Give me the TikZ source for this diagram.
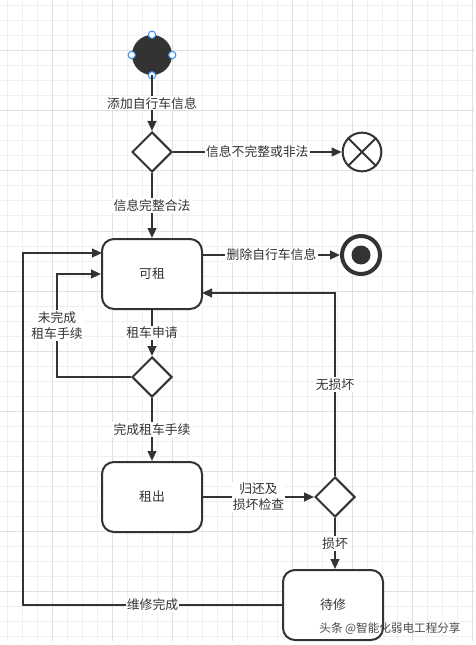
\documentclass[tikz,border=0pt]{standalone}
\usepackage{fontspec}
\setmainfont{Noto Sans CJK SC}
\usetikzlibrary{arrows.meta,shapes.geometric}
\definecolor{ink}{HTML}{333333}
\definecolor{gridminor}{HTML}{EFEFEF}
\definecolor{gridmajor}{HTML}{E0E0E0}
\definecolor{handle}{HTML}{2F8CF0}
\definecolor{wmark}{HTML}{4A4A4A}
\begin{document}
\begin{tikzpicture}[x=0.75pt,y=-0.75pt,
  every node/.style={text=ink},
  txt/.style={font=\fontsize{9.6}{12}\selectfont},
  state/.style={draw=ink, line width=1.5pt, rounded corners=9pt, minimum width=75pt, minimum height=52.5pt, inner sep=0pt, fill=white, txt},
  choice/.style={diamond, draw=ink, line width=1.5pt, minimum width=30pt, minimum height=30pt, inner sep=0pt, aspect=1, fill=white},
  elabel/.style={fill=white, inner sep=1pt, align=center, txt},
  conn/.style={draw=ink, line width=1.5pt, -{Triangle[length=7.5pt,width=6.5pt]}},
  handlept/.style={circle, draw=handle, fill=white, line width=0.75pt, minimum size=5.5pt, inner sep=0pt}]
\useasboundingbox (0,0) rectangle (475,645);
\fill[white] (0,0) rectangle (475,645);
% grid
\foreach \k in {0,...,31} { \draw[gridminor, line width=0.75pt] (7.3+15*\k,0) -- (7.3+15*\k,641); }
\foreach \k in {0,...,42} { \draw[gridminor, line width=0.75pt] (0,6+15*\k) -- (475,6+15*\k); }
\foreach \k in {0,...,7} { \draw[gridmajor, line width=0.75pt] (52.3+60*\k,0) -- (52.3+60*\k,641); }
\foreach \k in {0,...,9} { \draw[gridmajor, line width=0.75pt] (0,51+60*\k) -- (475,51+60*\k); }

% nodes
\node[circle, fill=ink, minimum size=30pt, inner sep=0pt] (start) at (152,55) {};
\node[choice] (d1) at (152,152) {};
\node[circle, draw=ink, line width=1.5pt, minimum size=29pt, inner sep=0pt, fill=white] (cancel) at (362,152) {};
\node[state] (s1) at (152,274) {可租};
\node[circle, draw=ink, line width=3pt, minimum size=28.5pt, inner sep=0pt, fill=white] (final) at (361,255) {};
\node[circle, fill=ink, minimum size=14.25pt, inner sep=0pt] (finaldot) at (361,255) {};
\node[choice] (d2) at (152,377) {};
\node[state] (s2) at (152,497) {租出};
\node[choice] (d3) at (335,497) {};
\node[state] (s3) at (333,605) {待修};

% selection handles on start node
\foreach \a in {north,east,south,west} { \node[handlept] (h\a) at (start.\a) {}; }

% cross in cancel node
\draw[ink, line width=1.5pt] (cancel.45) -- (cancel.225);
\draw[ink, line width=1.5pt] (cancel.135) -- (cancel.315);

% helper coordinates
\coordinate (k1) at (57,377);
\coordinate (k2) at (57,274);
\coordinate (m1) at (335,293);
\coordinate (m2) at (202,293);
\coordinate (r1) at (23,605);
\coordinate (r2) at (23,253);
\coordinate (r3) at (102,253);

% connectors
\draw[conn] (start) -- node[elabel]{添加自行车信息} (d1);
\draw[conn] (d1) -- node[elabel]{信息不完整或非法} (cancel);
\draw[conn] (d1) -- node[elabel]{信息完整合法} (s1);
\draw[conn] (s1.east |- final) -- node[elabel]{删除自行车信息} (final);
\draw[conn] (s1) -- node[elabel]{租车申请} (d2);
\draw[conn] (d2.west) -- (k1) -- node[elabel]{未完成\\租车手续} (k2) -- (s1.west);
\draw[conn] (d2) -- node[elabel]{完成租车手续} (s2);
\draw[conn] (s2) -- node[elabel]{归还及\\损坏检查} (d3);
\draw[conn] (d3.north) -- node[elabel]{无损坏} (m1) -- (m2);
\draw[conn] (d3.south) -- node[elabel]{损坏} (d3.south |- s3.north);
\draw[conn] (s3.west) -- node[elabel]{维修完成} (r1) -- (r2) -- (r3);

% watermark
\node[text=wmark, font=\fontsize{8.7}{10}\selectfont, inner sep=0pt] (wm) at (390,629) {头条 @智能化弱电工程分享};
\end{tikzpicture}
\end{document}
